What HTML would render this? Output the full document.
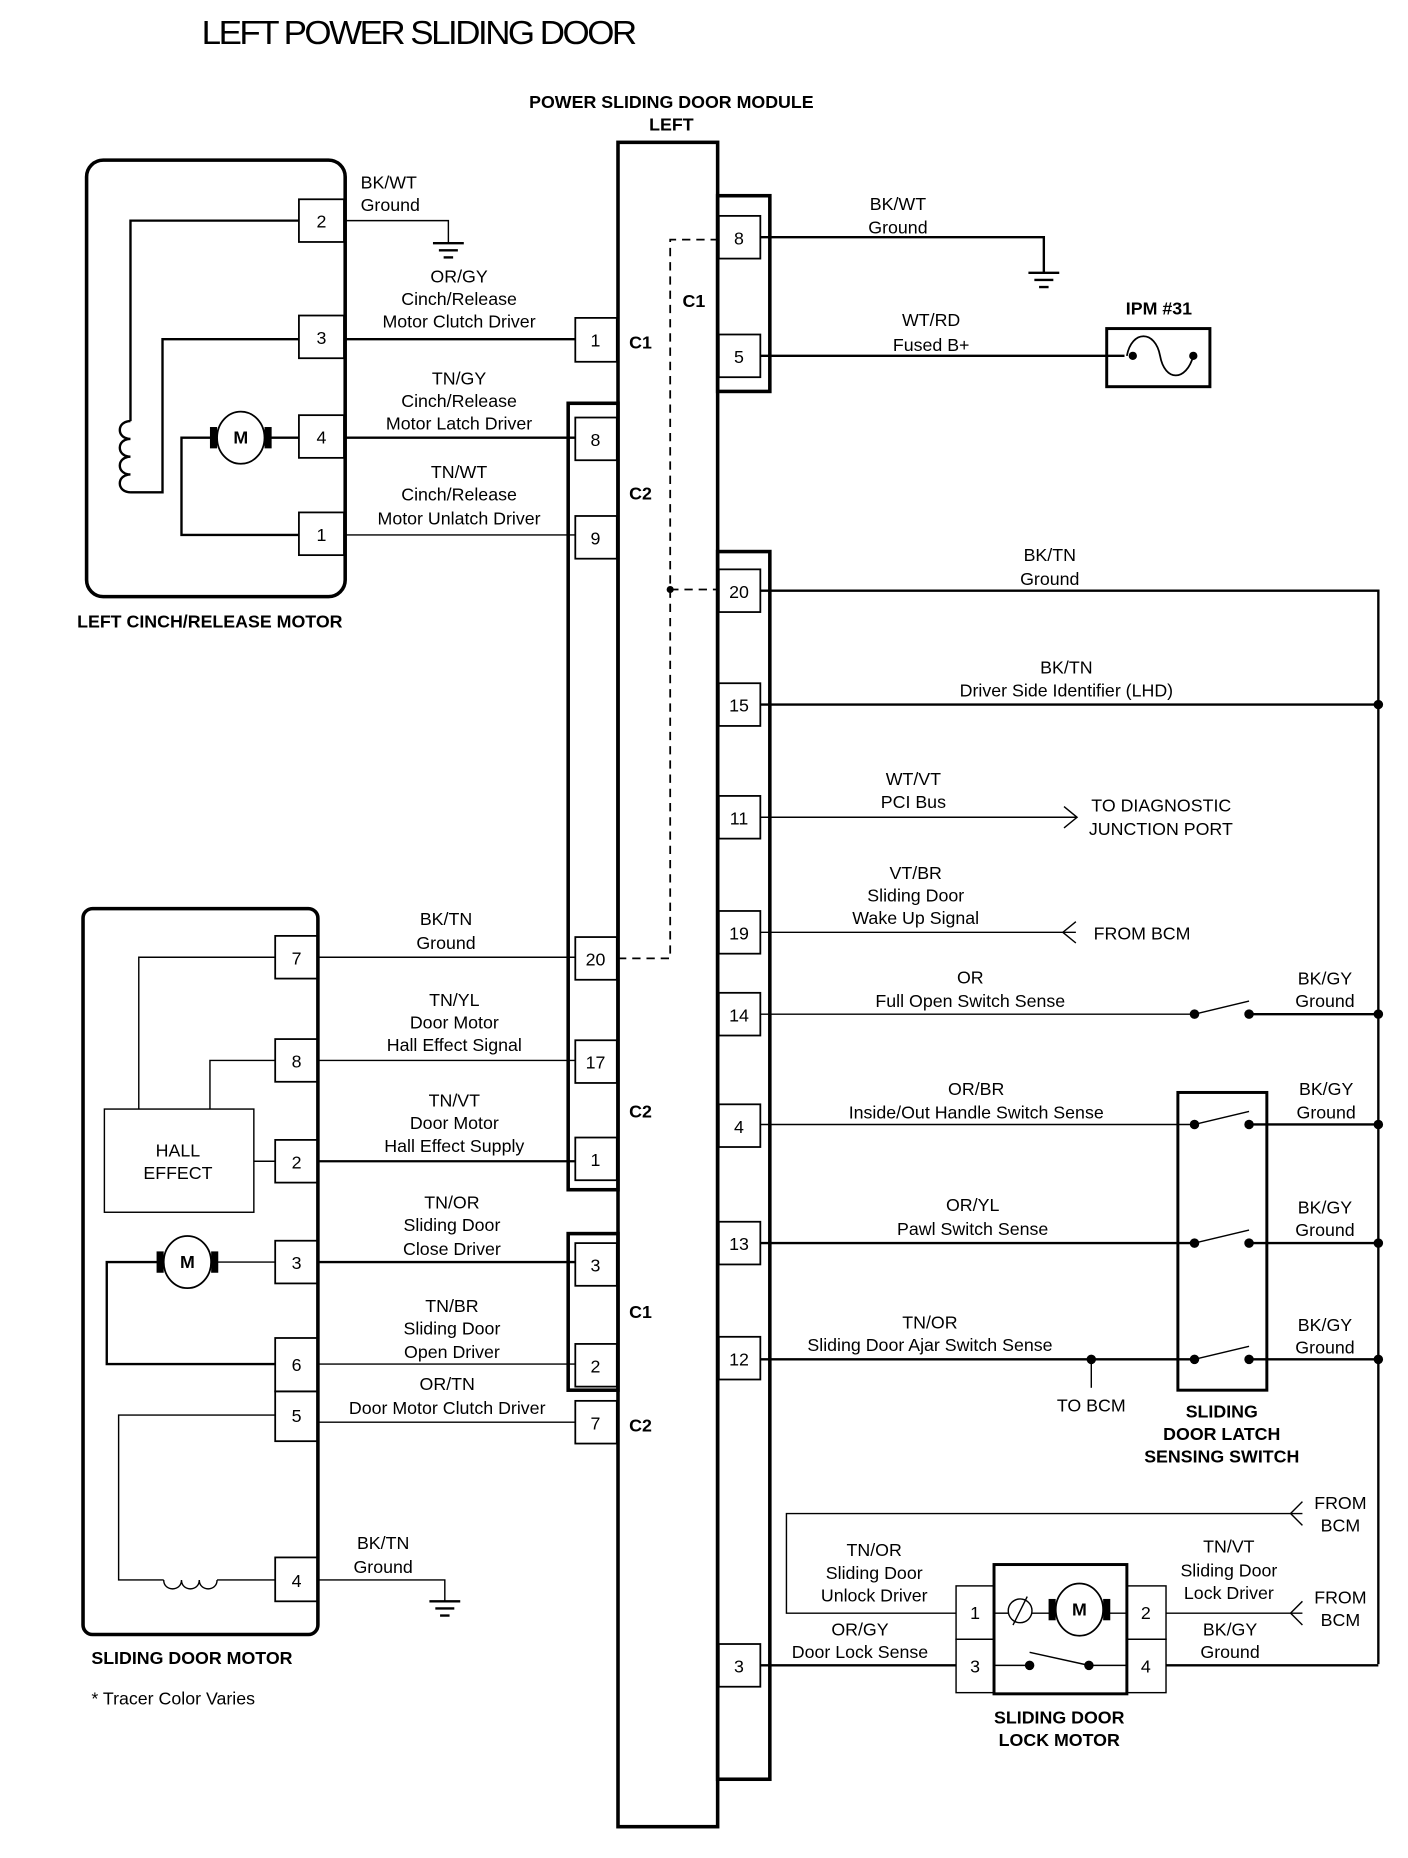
<!DOCTYPE html>
<html><head><meta charset="utf-8"><style>
html,body{margin:0;padding:0;background:#fff}
svg{display:block}
text{font-family:"Liberation Sans",sans-serif;font-size:15px;fill:#000}
.b{font-weight:bold}
.c{text-anchor:middle}
</style></head><body>
<svg width="1408" height="1858" viewBox="0 0 1187 1566.4" preserveAspectRatio="none" xmlns="http://www.w3.org/2000/svg">
<defs>
<g id="gnd"><line x1="-13" y1="0" x2="13" y2="0" stroke="#000" stroke-width="2"/><line x1="-8" y1="6" x2="8" y2="6" stroke="#000" stroke-width="2"/><line x1="-4" y1="12" x2="4" y2="12" stroke="#000" stroke-width="2"/></g>
</defs>
<text x="170" y="37" style="font-size:28px;letter-spacing:-2px" textLength="365" lengthAdjust="spacingAndGlyphs">LEFT POWER SLIDING DOOR</text>
<text class="b c" x="566" y="91">POWER SLIDING DOOR MODULE</text>
<text class="b c" x="566" y="110">LEFT</text>

<g fill="none" stroke="#000">
<rect x="521" y="120" width="84" height="1420" stroke-width="3"/>
<rect x="605" y="165" width="44" height="165" stroke-width="3"/>
<rect x="605" y="465" width="44" height="1035" stroke-width="3"/>
<rect x="479" y="340" width="42" height="663" stroke-width="3"/>
<rect x="479" y="1040" width="42" height="132" stroke-width="3"/>
<g stroke-width="1.5">
<rect x="606" y="182" width="35" height="36"/><rect x="606" y="282" width="35" height="36"/>
<rect x="606" y="480" width="35" height="36"/><rect x="606" y="576" width="35" height="36"/>
<rect x="606" y="671" width="35" height="36"/><rect x="606" y="768" width="35" height="36"/>
<rect x="606" y="837" width="35" height="36"/><rect x="606" y="931" width="35" height="36"/>
<rect x="606" y="1030" width="35" height="36"/><rect x="606" y="1127" width="35" height="36"/>
<rect x="606" y="1386" width="35" height="36"/>
<rect x="485" y="268" width="35" height="37"/>
<rect x="485" y="352" width="35" height="36"/><rect x="485" y="435" width="35" height="36"/>
<rect x="485" y="790" width="35" height="36"/><rect x="485" y="877" width="35" height="36"/>
<rect x="485" y="959" width="35" height="36"/>
<rect x="485" y="1048" width="35" height="36"/><rect x="485" y="1133" width="35" height="36"/>
<rect x="485" y="1181" width="35" height="36"/>
</g>
<g stroke-width="1.5" stroke-dasharray="7,5">
<polyline points="606,202 565,202 565,808 521,808"/>
<line x1="565" y1="497" x2="606" y2="497"/>
</g>

<rect x="73" y="135" width="218" height="368" rx="14" stroke-width="3"/>
<g stroke-width="1.5">
<rect x="252" y="168" width="38" height="36"/><rect x="252" y="266" width="38" height="36"/>
<rect x="252" y="350" width="38" height="36"/><rect x="252" y="432" width="38" height="36"/>
</g>
<g stroke-width="2">
<polyline points="252,186 110,186 110,355"/>
<path d="M110,355 c-12,0 -12,15 0,15 c-12,0 -12,15 0,15 c-12,0 -12,15 0,15 c-12,0 -12,15 0,15"/>
<polyline points="110,415 137,415 137,286 252,286"/>
<line x1="290" y1="286" x2="485" y2="286"/>
<line x1="290" y1="369" x2="485" y2="369"/>
<line x1="252" y1="369" x2="223" y2="369"/>
<polyline points="183,369 153,369 153,451 252,451"/>
</g>
<g stroke-width="1.2">
<polyline points="290,186 378,186 378,205"/>
<line x1="290" y1="451" x2="485" y2="451"/>
</g>
<use href="#gnd" x="378" y="205"/>
<ellipse cx="203" cy="369" rx="20" ry="22" stroke-width="1.5"/>

<g stroke-width="2">
<polyline points="641,200 880,200 880,230"/>
<line x1="641" y1="300" x2="948" y2="300"/>
<rect x="933" y="277" width="87" height="49" stroke-width="2.5"/>
<path d="M950,300 c4,-22 24,-22 28,0 c4,22 22,22 28,0" stroke-width="1.5"/>
<polyline points="641,498 1162,498 1162,1403"/>
<line x1="641" y1="594" x2="1162" y2="594"/>
<line x1="641" y1="1048" x2="1007" y2="1048"/>
<line x1="1053" y1="1048" x2="1162" y2="1048"/>
<line x1="641" y1="1146" x2="1007" y2="1146"/>
<line x1="1053" y1="1146" x2="1162" y2="1146"/>
<line x1="1053" y1="948" x2="1162" y2="948"/>
<line x1="1053" y1="855" x2="1162" y2="855"/>
<line x1="641" y1="1404" x2="806" y2="1404"/>
<line x1="983" y1="1404" x2="1162" y2="1404"/>
<rect x="993" y="921" width="75" height="251" stroke-width="2.5"/>
<rect x="838" y="1319" width="112" height="109" stroke-width="2.5"/>
</g>
<use href="#gnd" x="880" y="230"/>
<g stroke-width="1.2">
<line x1="641" y1="689" x2="908" y2="689"/><polyline points="897,680 908,689 897,698"/>
<line x1="641" y1="786" x2="907" y2="786"/><polyline points="907,777 896,786 907,795"/>
<line x1="641" y1="855" x2="1007" y2="855"/>
<line x1="641" y1="948" x2="1007" y2="948"/>
<line x1="920" y1="1146" x2="920" y2="1170"/>
<line x1="1007" y1="855" x2="1053" y2="844"/>
<line x1="1007" y1="948" x2="1053" y2="937"/>
<line x1="1007" y1="1048" x2="1053" y2="1037"/>
<line x1="1007" y1="1146" x2="1053" y2="1135"/>
<polyline points="806,1360 663,1360 663,1276 1098,1276"/>
<polyline points="1098,1266 1088,1276 1098,1286"/>
<line x1="983" y1="1360" x2="1098" y2="1360"/>
<polyline points="1098,1350 1088,1360 1098,1370"/>
<rect x="806" y="1337" width="32" height="45"/><rect x="806" y="1382" width="32" height="45"/>
<rect x="950" y="1337" width="33" height="45"/><rect x="950" y="1382" width="33" height="45"/>
<line x1="838" y1="1360" x2="850" y2="1360"/><line x1="870" y1="1360" x2="886" y2="1360"/><line x1="934" y1="1360" x2="950" y2="1360"/>
<circle cx="860" cy="1358" r="10"/><line x1="854" y1="1370" x2="866" y2="1346"/>
<ellipse cx="910" cy="1357" rx="20" ry="22" stroke-width="1.5"/>
<line x1="838" y1="1404" x2="868" y2="1404"/><line x1="918" y1="1404" x2="950" y2="1404"/>
<line x1="868" y1="1393" x2="918" y2="1404"/>
</g>

<rect x="70" y="766" width="198" height="612" rx="8" stroke-width="3"/>
<g stroke-width="1.5">
<rect x="232" y="789" width="36" height="36"/><rect x="232" y="876" width="36" height="36"/>
<rect x="232" y="961" width="36" height="36"/><rect x="232" y="1046" width="36" height="36"/>
<rect x="232" y="1128" width="36" height="45"/><rect x="232" y="1173" width="36" height="42"/>
<rect x="232" y="1313" width="36" height="37"/>
<rect x="88" y="935" width="126" height="87" stroke-width="1.2"/>
</g>
<g stroke-width="1.2">
<polyline points="232,807 117,807 117,935"/>
<polyline points="232,894 177,894 177,935"/>
<line x1="214" y1="979" x2="232" y2="979"/>
<line x1="268" y1="807" x2="485" y2="807"/>
<line x1="268" y1="894" x2="485" y2="894"/>
<line x1="268" y1="1150" x2="485" y2="1150"/>
<line x1="268" y1="1199" x2="485" y2="1199"/>
<line x1="178" y1="1064" x2="232" y2="1064"/>
<polyline points="232,1193 100,1193 100,1332 138,1332"/>
<path d="M138,1332 c0,10 15,10 15,0 c0,10 15,10 15,0 c0,10 15,10 15,0"/>
<line x1="183" y1="1332" x2="232" y2="1332"/>
<polyline points="268,1332 375,1332 375,1350"/>
</g>
<g stroke-width="2">
<line x1="268" y1="979" x2="485" y2="979"/>
<line x1="268" y1="1064" x2="485" y2="1064"/>
<polyline points="138,1064 90,1064 90,1150 232,1150"/>
</g>
<use href="#gnd" x="375" y="1350"/>
<ellipse cx="158" cy="1064" rx="20" ry="22" stroke-width="1.5"/>
</g>
<g fill="#000">
<rect x="177" y="360" width="6" height="18"/><rect x="223" y="360" width="6" height="18"/>
<rect x="132" y="1055" width="6" height="18"/><rect x="178" y="1055" width="6" height="18"/>
<rect x="884" y="1348" width="6" height="18"/><rect x="930" y="1348" width="6" height="18"/>
<circle cx="565" cy="497" r="3"/>
<circle cx="1162" cy="594" r="4"/><circle cx="1162" cy="855" r="4"/><circle cx="1162" cy="948" r="4"/>
<circle cx="1162" cy="1048" r="4"/><circle cx="1162" cy="1146" r="4"/>
<circle cx="1007" cy="855" r="4"/><circle cx="1053" cy="855" r="4"/>
<circle cx="1007" cy="948" r="4"/><circle cx="1053" cy="948" r="4"/>
<circle cx="1007" cy="1048" r="4"/><circle cx="1053" cy="1048" r="4"/>
<circle cx="1007" cy="1146" r="4"/><circle cx="1053" cy="1146" r="4"/>
<circle cx="920" cy="1146" r="4"/>
<circle cx="868" cy="1404" r="4"/><circle cx="918" cy="1404" r="4"/>
<circle cx="955" cy="300" r="3.5"/><circle cx="1006" cy="300" r="3.5"/>
</g>
<g style="font-size:13px">
<text x="203" y="374" class="b c">M</text><text x="158" y="1069" class="b c">M</text><text x="910" y="1362" class="b c">M</text>
</g>

<g>
<text class="c" x="623" y="206">8</text><text class="c" x="623" y="306">5</text>
<text class="c" x="623" y="504">20</text><text class="c" x="623" y="600">15</text>
<text class="c" x="623" y="695">11</text><text class="c" x="623" y="792">19</text>
<text class="c" x="623" y="861">14</text><text class="c" x="623" y="955">4</text>
<text class="c" x="623" y="1054">13</text><text class="c" x="623" y="1151">12</text>
<text class="c" x="623" y="1410">3</text>
<text class="c" x="502" y="292">1</text><text class="c" x="502" y="376">8</text><text class="c" x="502" y="459">9</text>
<text class="c" x="502" y="814">20</text><text class="c" x="502" y="901">17</text><text class="c" x="502" y="983">1</text>
<text class="c" x="502" y="1072">3</text><text class="c" x="502" y="1157">2</text><text class="c" x="502" y="1205">7</text>
<text class="c" x="271" y="192">2</text><text class="c" x="271" y="290">3</text><text class="c" x="271" y="374">4</text><text class="c" x="271" y="456">1</text>
<text class="c" x="250" y="813">7</text><text class="c" x="250" y="900">8</text><text class="c" x="250" y="985">2</text>
<text class="c" x="250" y="1070">3</text><text class="c" x="250" y="1156">6</text><text class="c" x="250" y="1199">5</text><text class="c" x="250" y="1338">4</text>
<text class="c" x="822" y="1365">1</text><text class="c" x="822" y="1410">3</text>
<text class="c" x="966" y="1365">2</text><text class="c" x="966" y="1410">4</text>
</g>
<g>
<text class="b c" x="585" y="259">C1</text><text class="b c" x="540" y="294">C1</text>
<text class="b c" x="540" y="421">C2</text><text class="b c" x="540" y="942">C2</text>
<text class="b c" x="540" y="1111">C1</text><text class="b c" x="540" y="1207">C2</text>
</g>

<text x="304" y="159">BK/WT</text><text x="304" y="178">Ground</text>
<text class="c" x="387" y="238">OR/GY</text><text class="c" x="387" y="257">Cinch/Release</text><text class="c" x="387" y="276">Motor Clutch Driver</text>
<text class="c" x="387" y="324">TN/GY</text><text class="c" x="387" y="343">Cinch/Release</text><text class="c" x="387" y="362">Motor Latch Driver</text>
<text class="c" x="387" y="403">TN/WT</text><text class="c" x="387" y="422">Cinch/Release</text><text class="c" x="387" y="442">Motor Unlatch Driver</text>
<text class="b" x="65" y="529">LEFT CINCH/RELEASE MOTOR</text>

<text class="c" x="757" y="177">BK/WT</text><text class="c" x="757" y="197">Ground</text>
<text class="c" x="785" y="275">WT/RD</text><text class="c" x="785" y="296">Fused B+</text>
<text class="b c" x="977" y="265">IPM #31</text>
<text class="c" x="885" y="473">BK/TN</text><text class="c" x="885" y="493">Ground</text>
<text class="c" x="899" y="568">BK/TN</text><text class="c" x="899" y="587">Driver Side Identifier (LHD)</text>
<text class="c" x="770" y="662">WT/VT</text><text class="c" x="770" y="681">PCI Bus</text>
<text x="920" y="684">TO DIAGNOSTIC</text><text x="918" y="704">JUNCTION PORT</text>
<text class="c" x="772" y="741">VT/BR</text><text class="c" x="772" y="760">Sliding Door</text><text class="c" x="772" y="779">Wake Up Signal</text>
<text x="922" y="792">FROM BCM</text>
<text class="c" x="818" y="829">OR</text><text class="c" x="818" y="849">Full Open Switch Sense</text>
<text class="c" x="1117" y="830">BK/GY</text><text class="c" x="1117" y="849">Ground</text>
<text class="c" x="823" y="923">OR/BR</text><text class="c" x="823" y="943">Inside/Out Handle Switch Sense</text>
<text class="c" x="1118" y="923">BK/GY</text><text class="c" x="1118" y="943">Ground</text>
<text class="c" x="820" y="1021">OR/YL</text><text class="c" x="820" y="1041">Pawl Switch Sense</text>
<text class="c" x="1117" y="1023">BK/GY</text><text class="c" x="1117" y="1042">Ground</text>
<text class="c" x="784" y="1120">TN/OR</text><text class="c" x="784" y="1139">Sliding Door Ajar Switch Sense</text>
<text class="c" x="1117" y="1122">BK/GY</text><text class="c" x="1117" y="1141">Ground</text>
<text class="c" x="920" y="1190">TO BCM</text>
<text class="b c" x="1030" y="1195">SLIDING</text><text class="b c" x="1030" y="1214">DOOR LATCH</text><text class="b c" x="1030" y="1233">SENSING SWITCH</text>
<text class="c" x="1130" y="1272">FROM</text><text class="c" x="1130" y="1291">BCM</text>
<text class="c" x="1130" y="1352">FROM</text><text class="c" x="1130" y="1371">BCM</text>
<text class="c" x="737" y="1312">TN/OR</text><text class="c" x="737" y="1331">Sliding Door</text><text class="c" x="737" y="1350">Unlock Driver</text>
<text class="c" x="1036" y="1309">TN/VT</text><text class="c" x="1036" y="1329">Sliding Door</text><text class="c" x="1036" y="1348">Lock Driver</text>
<text class="c" x="725" y="1379">OR/GY</text><text class="c" x="725" y="1398">Door Lock Sense</text>
<text class="c" x="1037" y="1379">BK/GY</text><text class="c" x="1037" y="1398">Ground</text>
<text class="b c" x="893" y="1453">SLIDING DOOR</text><text class="b c" x="893" y="1472">LOCK MOTOR</text>

<text class="c" x="376" y="780">BK/TN</text><text class="c" x="376" y="800">Ground</text>
<text class="c" x="383" y="848">TN/YL</text><text class="c" x="383" y="867">Door Motor</text><text class="c" x="383" y="886">Hall Effect Signal</text>
<text class="c" x="383" y="933">TN/VT</text><text class="c" x="383" y="952">Door Motor</text><text class="c" x="383" y="971">Hall Effect Supply</text>
<text class="c" x="381" y="1019">TN/OR</text><text class="c" x="381" y="1038">Sliding Door</text><text class="c" x="381" y="1058">Close Driver</text>
<text class="c" x="381" y="1106">TN/BR</text><text class="c" x="381" y="1125">Sliding Door</text><text class="c" x="381" y="1145">Open Driver</text>
<text class="c" x="377" y="1172">OR/TN</text><text class="c" x="377" y="1192">Door Motor Clutch Driver</text>
<text class="c" x="323" y="1306">BK/TN</text><text class="c" x="323" y="1326">Ground</text>
<text class="c" x="150" y="975">HALL</text><text class="c" x="150" y="994">EFFECT</text>
<text class="b" x="77" y="1403">SLIDING DOOR MOTOR</text>
<text x="77" y="1437">* Tracer Color Varies</text>
</svg>
</body></html>
